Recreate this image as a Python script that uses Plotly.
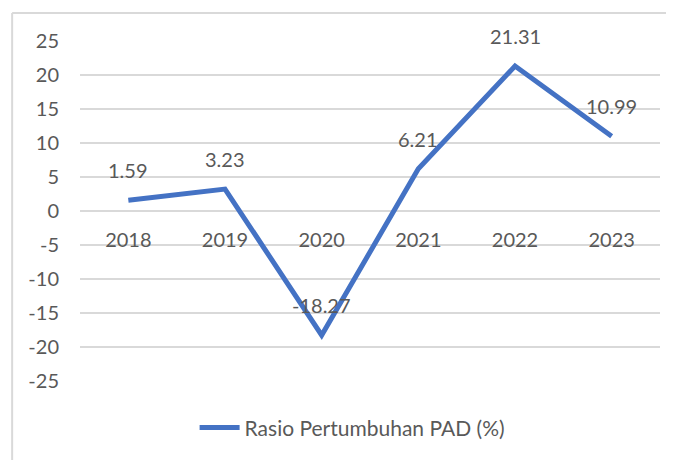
import plotly.graph_objects as go

# Rasio Pertumbuhan PAD (%)
years = ['2018', '2019', '2020', '2021', '2022', '2023']
ratio = [1.59, 3.23, -18.27, 6.21, 21.31, 10.99]
y_ticks = [25, 20, 15, 10, 5, 0, -5, -10, -15, -20, -25]
series_name = 'Rasio Pertumbuhan PAD (%)'

LINE_BLUE = '#4472C4'
TEXT_GREY = '#595959'
GRID_GREY = '#D9D9D9'
FONT = 'Lato, "Open Sans", sans-serif'

fig = go.Figure()
fig.add_trace(go.Scatter(
    x=years, y=ratio, mode='lines', name=series_name,
    line=dict(color=LINE_BLUE, width=5),
))

# data labels above each point (Excel style); x given as category index
for i, v in enumerate(ratio):
    fig.add_annotation(x=i, y=v, text=f'{v:.2f}', showarrow=False,
                       yshift=30, font=dict(size=20, color=TEXT_GREY, family=FONT))

# page body has an 8px default margin, so margins are trimmed by that much
fig.update_layout(
    width=674, height=460, autosize=False,
    paper_bgcolor='white', plot_bgcolor='white',
    margin=dict(l=72, r=22, t=33, b=87, autoexpand=False),
    font=dict(family=FONT, color=TEXT_GREY, size=20),
    showlegend=True,
    legend=dict(orientation='h', x=0.47, xanchor='center', y=-0.138, yanchor='middle',
                font=dict(size=21, color=TEXT_GREY), itemwidth=40),
)

fig.update_yaxes(
    range=[-25, 25], tickvals=y_ticks, ticktext=[str(t) for t in y_ticks],
    showgrid=True, gridcolor=GRID_GREY, gridwidth=2,
    zeroline=False, showline=False, ticklabelstandoff=20, automargin=False,
    tickfont=dict(size=20, color=TEXT_GREY),
)
fig.update_xaxes(
    type='category', range=[-0.5, 5.5], anchor='free', position=0.5,
    showgrid=False, zeroline=False, showline=False, ticks='', automargin=False,
    ticklabelstandoff=15, tickfont=dict(size=20, color=TEXT_GREY),
)

# chart frame (left and top edges visible in the reference)
fig.add_shape(type='line', xref='paper', yref='paper', x0=-0.117, x1=-0.117, y0=1.082, y1=-0.3,
              line=dict(color=GRID_GREY, width=2))
fig.add_shape(type='line', xref='paper', yref='paper', x0=-0.117, x1=1.05, y0=1.082, y1=1.082,
              line=dict(color=GRID_GREY, width=2))

fig.write_html('out.html')
